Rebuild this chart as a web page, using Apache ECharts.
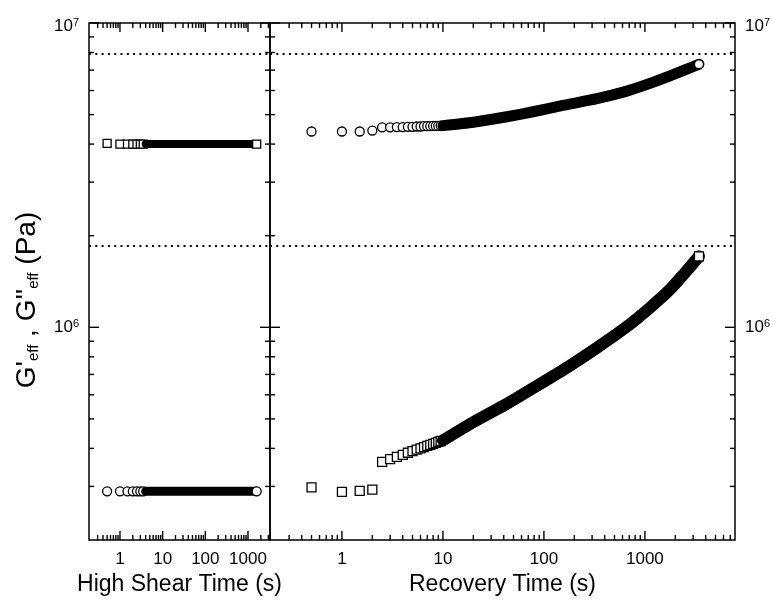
<!DOCTYPE html>
<html><head><meta charset="utf-8">
<script src="https://cdn.jsdelivr.net/npm/echarts@6/dist/echarts.min.js"></script>
<style>html,body{margin:0;padding:0;background:#fff}#c{width:773px;height:601px}</style>
</head><body><div id="c"></div><script>
const FONT = '"Liberation Sans", Arial, Helvetica, sans-serif';

// ---- High shear step (left panel) ----
const shearTime = [0.5,1,1.5,2,2.5,3,3.5,4,5,6,7,8,10,15,20,30,50,70,100,150,200,300,500,700,1000,1300,1600];
const shearGp   = [4.02e6,4.0e6,4.0e6,4.0e6,4.0e6,4.0e6,4.0e6,4.0e6,4.0e6,4.0e6,4.0e6,4.0e6,4.0e6,4.0e6,4.0e6,4.0e6,4.0e6,4.0e6,4.0e6,4.0e6,4.0e6,4.0e6,4.0e6,4.0e6,4.0e6,4.0e6,4.0e6];
const shearGpp  = [2.89e5,2.89e5,2.89e5,2.89e5,2.89e5,2.89e5,2.89e5,2.89e5,2.89e5,2.89e5,2.89e5,2.89e5,2.89e5,2.89e5,2.89e5,2.89e5,2.89e5,2.89e5,2.89e5,2.89e5,2.89e5,2.89e5,2.89e5,2.89e5,2.89e5,2.89e5,2.89e5];

// ---- Recovery (right panel) ----
const recTime = [0.5,1,1.5,2,2.5,3,3.5,4,4.5,5,5.5,6,6.5,7,7.5,8,8.5,9,9.5,10,20,43,78,154,335,649,1122,1770,2490,3430];
const recGp   = [4.40e6,4.40e6,4.40e6,4.43e6,4.54e6,4.54e6,4.55e6,4.55e6,4.56e6,4.56e6,4.57e6,4.57e6,4.58e6,4.58e6,4.58e6,4.59e6,4.59e6,4.59e6,4.60e6,4.60e6,
                 4.72e6,4.92e6,5.11e6,5.36e6,5.64e6,5.96e6,6.33e6,6.70e6,7.01e6,7.32e6];
const recGpp  = [2.98e5,2.88e5,2.90e5,2.93e5,3.61e5,3.69e5,3.75e5,3.81e5,3.87e5,3.92e5,3.96e5,4.00e5,4.04e5,4.08e5,4.11e5,4.14e5,4.17e5,4.20e5,4.23e5,4.25e5,
                 4.88e5,5.61e5,6.31e5,7.23e5,8.57e5,1.00e6,1.16e6,1.33e6,1.51e6,1.71e6];

// reference (dotted) levels
const refLevels = [7.9e6, 1.86e6];

// tick values
const xMajorTicks = [1, 10, 100, 1000];
const xMinorLeft  = [0.3,0.4,0.5,0.6,0.7,0.8,0.9,2,3,4,5,6,7,8,9,20,30,40,50,60,70,80,90,200,300,400,500,600,700,800,900,2000,3000];
const xMinorRight = [0.3,0.4,0.5,0.6,0.7,0.8,0.9,2,3,4,5,6,7,8,9,20,30,40,50,60,70,80,90,200,300,400,500,600,700,800,900,2000,3000,4000,5000,6000,7000];
const yMajorTicks = [1e6, 1e7];
const yMinorTicks = [3e5,4e5,5e5,6e5,7e5,8e5,9e5,2e6,3e6,4e6,5e6,6e6,7e6,8e6,9e6];

const X_RANGE = [[0.188, 3280], [0.194, 7800]];
const Y_RANGE = [2e5, 1e7];

function pairs(xs, ys, a, b) { const out = []; for (let i = a; i < b; i++) out.push([xs[i], ys[i]]); return out; }

function tickData(g) {
  const d = [];
  const xMinor = g === 0 ? xMinorLeft : xMinorRight;
  xMajorTicks.forEach(v => d.push([v, Y_RANGE[0], 0, 1]));
  xMinor.forEach(v => d.push([v, Y_RANGE[0], 0, 0]));
  yMajorTicks.forEach(v => d.push([1, v, 1, 1]));
  yMinorTicks.forEach(v => d.push([1, v, 1, 0]));
  return d;
}

function tickRender(g) {
  return function (params, api) {
    const cs = params.coordSys;
    const kind = api.value(2), major = api.value(3) === 1;
    const st = { stroke: '#000', lineWidth: 1.4 };
    const ch = [];
    const p = api.coord([api.value(0), api.value(1)]);
    if (kind === 0) {
      const x = p[0], yb = cs.y + cs.height, yt = cs.y, L = major ? 9 : 5;
      ch.push({ type: 'line', shape: { x1: x, y1: yb, x2: x, y2: yb - L }, style: st });
      ch.push({ type: 'line', shape: { x1: x, y1: yt, x2: x, y2: yt + L }, style: st });
      if (major) ch.push({ type: 'text', x: x, y: yb + 11,
        style: { text: String(api.value(0)), fill: '#000', fontSize: 17, fontFamily: FONT, align: 'center', verticalAlign: 'top' } });
    } else {
      const y = p[1], xl = cs.x, xr = cs.x + cs.width, L = major ? 10 : 5;
      ch.push({ type: 'line', shape: { x1: xl, y1: y, x2: xl + L, y2: y }, style: st });
      ch.push({ type: 'line', shape: { x1: xr, y1: y, x2: xr - L, y2: y }, style: st });
      if (major) {
        const e = Math.round(Math.log10(api.value(1)));
        const dy = (api.value(1) === Y_RANGE[1]) ? 3 : 0;
        ch.push({ type: 'text', x: g === 0 ? xl - 10 : xr + 10, y: y + dy,
          style: { text: '10{s|' + e + '}', fill: '#000', fontSize: 17, fontFamily: FONT,
            align: g === 0 ? 'right' : 'left', verticalAlign: 'middle',
            rich: { s: { fontSize: 11, fontFamily: FONT, fill: '#000', verticalAlign: 'top' } } } });
      }
    }
    return { type: 'group', children: ch };
  };
}

const markStyle = { color: '#fff', borderColor: '#000', borderWidth: 1.3, opacity: 1 };

function panelSeries(g, xs, circ, sq, cStart, sStart, cSize, sSize, cBand, sBand) {
  const n = xs.length;
  const base = { xAxisIndex: g, yAxisIndex: g, animation: false, silent: true };
  return [
    Object.assign({ type: 'scatter', symbol: 'circle', symbolSize: cSize, itemStyle: markStyle, data: pairs(xs, circ, 0, cStart), z: 2 }, base),
    Object.assign({ type: 'scatter', symbol: 'rect', symbolSize: sSize, itemStyle: markStyle, data: pairs(xs, sq, 0, sStart), z: 2 }, base),
    Object.assign({ type: 'line', symbol: 'none', smooth: 0.2, lineStyle: { width: cBand, color: '#000', cap: 'round', join: 'round' },
      data: pairs(xs, circ, cStart, n), z: 3,
      markLine: { silent: true, symbol: 'none', label: { show: false },
        lineStyle: { type: [2, 4.3], width: 2, color: '#000' },
        data: refLevels.map(v => ({ yAxis: v })) } }, base),
    Object.assign({ type: 'line', symbol: 'none', smooth: 0.2, lineStyle: { width: sBand, color: '#000', cap: 'round', join: 'round' },
      data: pairs(xs, sq, sStart, n), z: 3 }, base),
    Object.assign({ type: 'scatter', symbol: 'circle', symbolSize: cSize, itemStyle: markStyle, data: pairs(xs, circ, n - 1, n), z: 4 }, base),
    Object.assign({ type: 'scatter', symbol: 'rect', symbolSize: sSize, itemStyle: markStyle, data: pairs(xs, sq, n - 1, n), z: 4 }, base),
    Object.assign({ type: 'custom', renderItem: tickRender(g), data: tickData(g), z: 6, clip: false }, base)
  ];
}

const axisOff = { axisLine: { show: false }, axisTick: { show: false }, axisLabel: { show: false }, splitLine: { show: false } };
const nameStyle = { fontSize: 23, fontFamily: FONT, color: '#000' };

const option = {
  backgroundColor: '#fff',
  animation: false,
  grid: [
    { left: 89, top: 23, width: 181, height: 518, show: true, borderColor: '#000', borderWidth: 1.5, backgroundColor: 'transparent' },
    { left: 270, top: 23, width: 465, height: 518, show: true, borderColor: '#000', borderWidth: 1.5, backgroundColor: 'transparent' }
  ],
  xAxis: [
    Object.assign({ gridIndex: 0, type: 'log', logBase: 10, min: X_RANGE[0][0], max: X_RANGE[0][1],
      name: 'High Shear Time (s)', nameLocation: 'middle', nameGap: 33, nameTextStyle: nameStyle }, axisOff),
    Object.assign({ gridIndex: 1, type: 'log', logBase: 10, min: X_RANGE[1][0], max: X_RANGE[1][1],
      name: 'Recovery Time (s)', nameLocation: 'middle', nameGap: 33, nameTextStyle: nameStyle }, axisOff)
  ],
  yAxis: [
    Object.assign({ gridIndex: 0, type: 'log', logBase: 10, min: Y_RANGE[0], max: Y_RANGE[1] }, axisOff),
    Object.assign({ gridIndex: 1, type: 'log', logBase: 10, min: Y_RANGE[0], max: Y_RANGE[1] }, axisOff)
  ],
  graphic: [{
    type: 'text', x: 27, y: 300, rotation: Math.PI / 2, silent: true,
    style: { text: "G'{s|eff} , G''{s|eff} (Pa)", fill: '#000', fontSize: 28, fontFamily: FONT,
      align: 'center', verticalAlign: 'middle',
      rich: { s: { fontSize: 15, fontFamily: FONT, fill: '#000', verticalAlign: 'bottom' } } }
  }],
  series: [].concat(
    panelSeries(0, shearTime, shearGpp, shearGp, 7, 7, 9, 8, 9, 8),
    panelSeries(1, recTime, recGp, recGpp, 19, 19, 9, 9, 11, 12)
  )
};

const chart = echarts.init(document.getElementById('c'), null, { renderer: 'canvas' });
chart.setOption(option);
</script></body></html>
